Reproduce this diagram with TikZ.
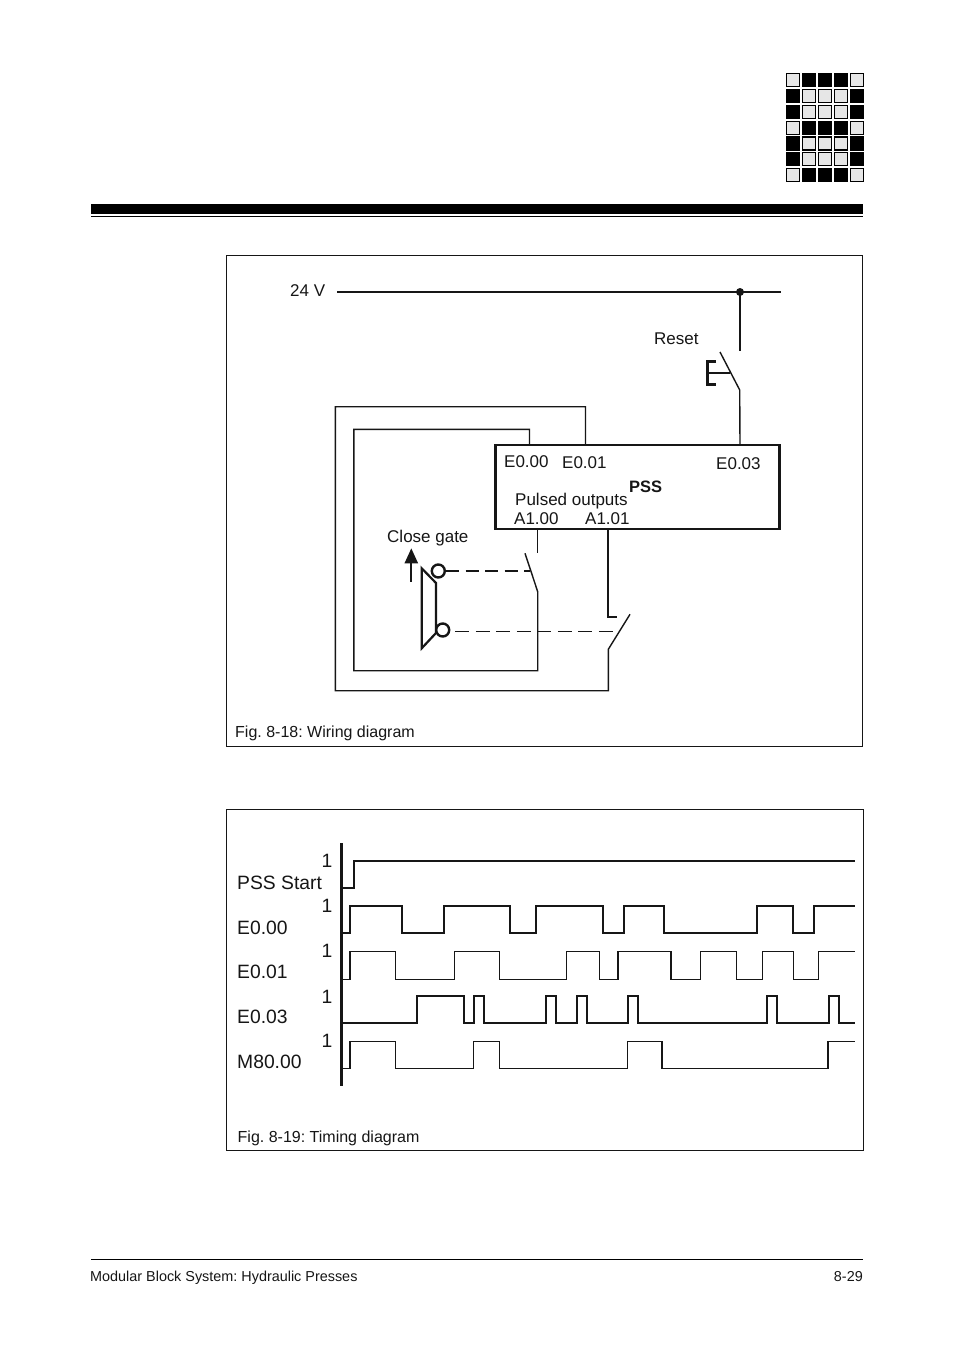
\documentclass[tikz,border=0pt]{standalone}
\usepackage{fontspec}
\setmainfont{Liberation Sans}
\usetikzlibrary{arrows.meta}
\definecolor{ink}{HTML}{161616}
\definecolor{cell}{HTML}{E6E6E6}
\tikzset{
  lbl/.style={anchor=base west,inner sep=0pt,text=ink,font=\frenchspacing\fontsize{17}{20}\selectfont},
  big/.style={anchor=base west,inner sep=0pt,text=ink,font=\frenchspacing\fontsize{19.3}{22}\selectfont},
  figcap/.style={anchor=base west,inner sep=0pt,text=ink,font=\frenchspacing\fontsize{16}{19}\selectfont},
  foot/.style={anchor=base west,inner sep=0pt,text=ink,font=\frenchspacing\fontsize{14.4}{17}\selectfont},
  wire/.style={draw=ink,line width=1.4pt,line join=miter},
  hwire/.style={draw=ink,line width=2.2pt},
  frame/.style={draw=ink,line width=1pt},
  gcell/.style={draw=black,fill=cell,line width=1.1pt},
  bcell/.style={draw=black,fill=black,line width=1.1pt},
  sigthick/.style={draw=ink,line width=2.2pt,line join=miter},
  sigmid/.style={draw=ink,line width=1.8pt,line join=miter},
  sigthin/.style={draw=ink,line width=1.4pt,line join=miter},
  contact/.style={circle,draw=ink,line width=2.4pt,fill=white,minimum size=13pt,inner sep=0pt},
}
\begin{document}
\begin{tikzpicture}[x=1pt,y=-1pt]
\useasboundingbox (0,0) rectangle (954,1351);
\fill[white] (0,0) rectangle (954,1351);
% logo
\foreach \r/\yy in {0/73.7,1/89.7,2/105.7,3/121.2,4/137,5/152.7,6/168.7}{
  \foreach \c/\xx in {0/786.5,1/802.5,2/818.5,3/834.5,4/850.5}{
    \pgfmathtruncatemacro{\isblack}{
      (\r==0||\r==3||\r==6) ? ((\c>0&&\c<4)?1:0) : ((\c==0||\c==4)?1:0)}
    \ifnum\isblack=1
      \path[bcell] (\xx,\yy) rectangle ++(13,13);
    \else
      \path[gcell] (\xx,\yy) rectangle ++(13,13);
    \fi
  }
}
% header bars
\fill[black] (91,204) rectangle (863,214);
\draw[black,line width=1pt] (91,216.3) -- (863,216.3);
% frames
\draw[frame] (226.5,255.5) rectangle (862.5,746);
\draw[frame] (226.5,809.5) rectangle (863,1150.5);
% wiring diagram
\node[lbl] (v24) at (290,296) {24 V};
\coordinate (busL) at (337,292);
\coordinate (busR) at (781,292);
\coordinate (busJ) at (740,292);
\draw[hwire] (busL) -- (busR);
\fill[ink] (busJ) circle (4);
\node[lbl] (reset) at (654,344) {Reset};
% PSS box
\node[draw=ink,line width=2.6pt,outer sep=0pt,minimum width=284pt,minimum height=84pt,inner sep=0pt,anchor=north west] (pss) at (495.5,445) {};
\node[lbl] (e000) at (504,467) {E0.00};
\node[lbl] (e001) at (562,468) {E0.01};
\node[lbl] (e003) at (716,469) {E0.03};
\node[anchor=base west,inner sep=0pt,text=ink,font=\fontsize{16.5}{18}\selectfont\bfseries] (psslbl) at (629,492) {PSS};
\node[lbl] (pulsed) at (515,505) {Pulsed outputs};
\node[lbl] (a100) at (514,524) {A1.00};
\node[lbl] (a101) at (585,524) {A1.01};
\node[lbl] (close) at (387,542) {Close gate};
% reset switch
\coordinate (rs1) at (740,351);
\coordinate (rs2) at (739.7,390);
\coordinate (rs3) at (720,352);
\coordinate (rsIn) at (740,445);
\coordinate (rsMid) at (730,372.7);
\draw[hwire] (busJ) -- (rs1);
\draw[wire] (rs3) -- (rs2) -- (rsIn);
\draw[draw=ink,line width=2.6pt,line join=miter] (716,361.5) -- (707.5,361.5) -- (707.5,384.5) -- (716,384.5);
\draw[draw=ink,line width=2.2pt] (707.5,372.7) -- (rsMid);
% outer loop
\coordinate (e01t) at (585.5,445);
\coordinate (s2b) at (608.3,649.3);
\coordinate (s2t) at (630,614.3);
\draw[wire] (e01t) -- (585.5,406.7) -- (335.3,406.7) -- (335.3,690.7) -- (608.3,690.7) -- (s2b) -- (s2t);
% inner loop
\coordinate (e00t) at (529.5,445);
\coordinate (s1b) at (537.7,591.7);
\coordinate (s1t) at (525,553.3);
\draw[wire] (e00t) -- (529.5,429.3) -- (353.8,429.3) -- (353.8,670.7) -- (537.7,670.7) -- (s1b) -- (s1t);
% output contacts
\coordinate (a0b) at (537.7,529);
\coordinate (a0e) at (537.7,553.3);
\coordinate (a1b) at (607.7,529);
\coordinate (a1e) at (616.7,617.3);
\draw[wire] (a0b) -- (a0e);
\draw[draw=ink,line width=2pt] (a1b) |- (a1e);
% gate lever
\draw[draw=ink,line width=2.2pt,line join=miter] (436,583) -- (421.7,568.3) -- (421.7,648.3) -- (436,633) -- cycle;
\node[contact] (ctop) at (438.3,571) {};
\node[contact] (cbot) at (442.7,630) {};
\coordinate (d1e) at (530,571);
\coordinate (d2e) at (618,631);
\draw[draw=ink,line width=1.9pt,dash pattern=on 13pt off 6.5pt] (ctop) -- (d1e);
\draw[draw=ink,line width=0.8pt,dash pattern=on 14pt off 6.5pt] (cbot.east) ++(5,1) -- (d2e);
% close-gate arrow
\coordinate (arB) at (411.3,581.7);
\coordinate (arT) at (411.3,548.3);
\draw[draw=ink,line width=2.2pt,-{Triangle[length=15pt,width=13pt]}] (arB) -- (arT);
\node[figcap] (fig18) at (235,737) {Fig. 8-18: Wiring diagram};
% timing diagram
\coordinate (axT) at (341.3,843.3);
\coordinate (axB) at (341.3,1085.7);
\draw[draw=ink,line width=2.6pt] (axT) -- (axB);
\foreach \n/\yy in {a/867,b/912.7,c/957.7,d/1003,e/1047.7}{
  \node[big,anchor=base] (one\n) at (327,\yy) {1};
}
\node[big] (lpss) at (237,889) {PSS Start};
\node[big] (l000) at (237,934) {E0.00};
\node[big] (l001) at (237,978) {E0.01};
\node[big] (l003) at (237,1023) {E0.03};
\node[big] (l800) at (237,1068) {M80.00};
\draw[sigthick] (341,887.7) -| (354.3,860.7) -- (855,860.7);
\draw[sigthick] (341,932.7) -| (350,906) -| (401.7,932.7) -| (443.7,906) -| (510,932.7) -| (535.7,906)
  -| (602.7,932.7) -| (624.3,906) -| (664,932.7) -| (757,906) -| (793,932.7) -| (813.7,906) -- (855,906);
\draw[sigthin] (341,979.3) -| (350,951.7) -| (395.7,979.3) -| (454.7,951.7) -| (499.3,979.3) -| (566.7,951.7)
  -| (599.3,979.3) -| (618,951.7) -| (671,979.3) -| (700.3,951.7) -| (736.7,979.3) -| (762.3,951.7)
  -| (793.3,979.3) -| (818.7,951.7) -- (855,951.7);
\draw[sigmid] (341,1022.7) -| (417,996.3) -| (463.7,1022.7) -| (473.7,996.3) -| (484,1022.7) -| (545.7,996.3)
  -| (556.3,1022.7) -| (576.7,996.3) -| (587,1022.7) -| (628,996.3) -| (638.3,1022.7) -| (767,996.3)
  -| (777.3,1022.7) -| (828.7,996.3) -| (839,1022.7) -- (855,1022.7);
\draw[sigthin] (341,1068.3) -| (350,1041.7) -| (395.7,1068.3) -| (473.3,1041.7) -| (499.3,1068.3) -| (627.7,1041.7)
  -| (662,1068.3) -| (828,1041.7) -- (855,1041.7);
\node[figcap] (fig19) at (237.5,1142) {Fig. 8-19: Timing diagram};
% footer
\draw[black,line width=1pt] (91,1259) -- (863,1259);
\node[foot] (ftl) at (90,1281) {Modular Block System: Hydraulic Presses};
\node[foot,anchor=base east] (ftr) at (863,1281) {8-29};
\end{tikzpicture}
\end{document}
